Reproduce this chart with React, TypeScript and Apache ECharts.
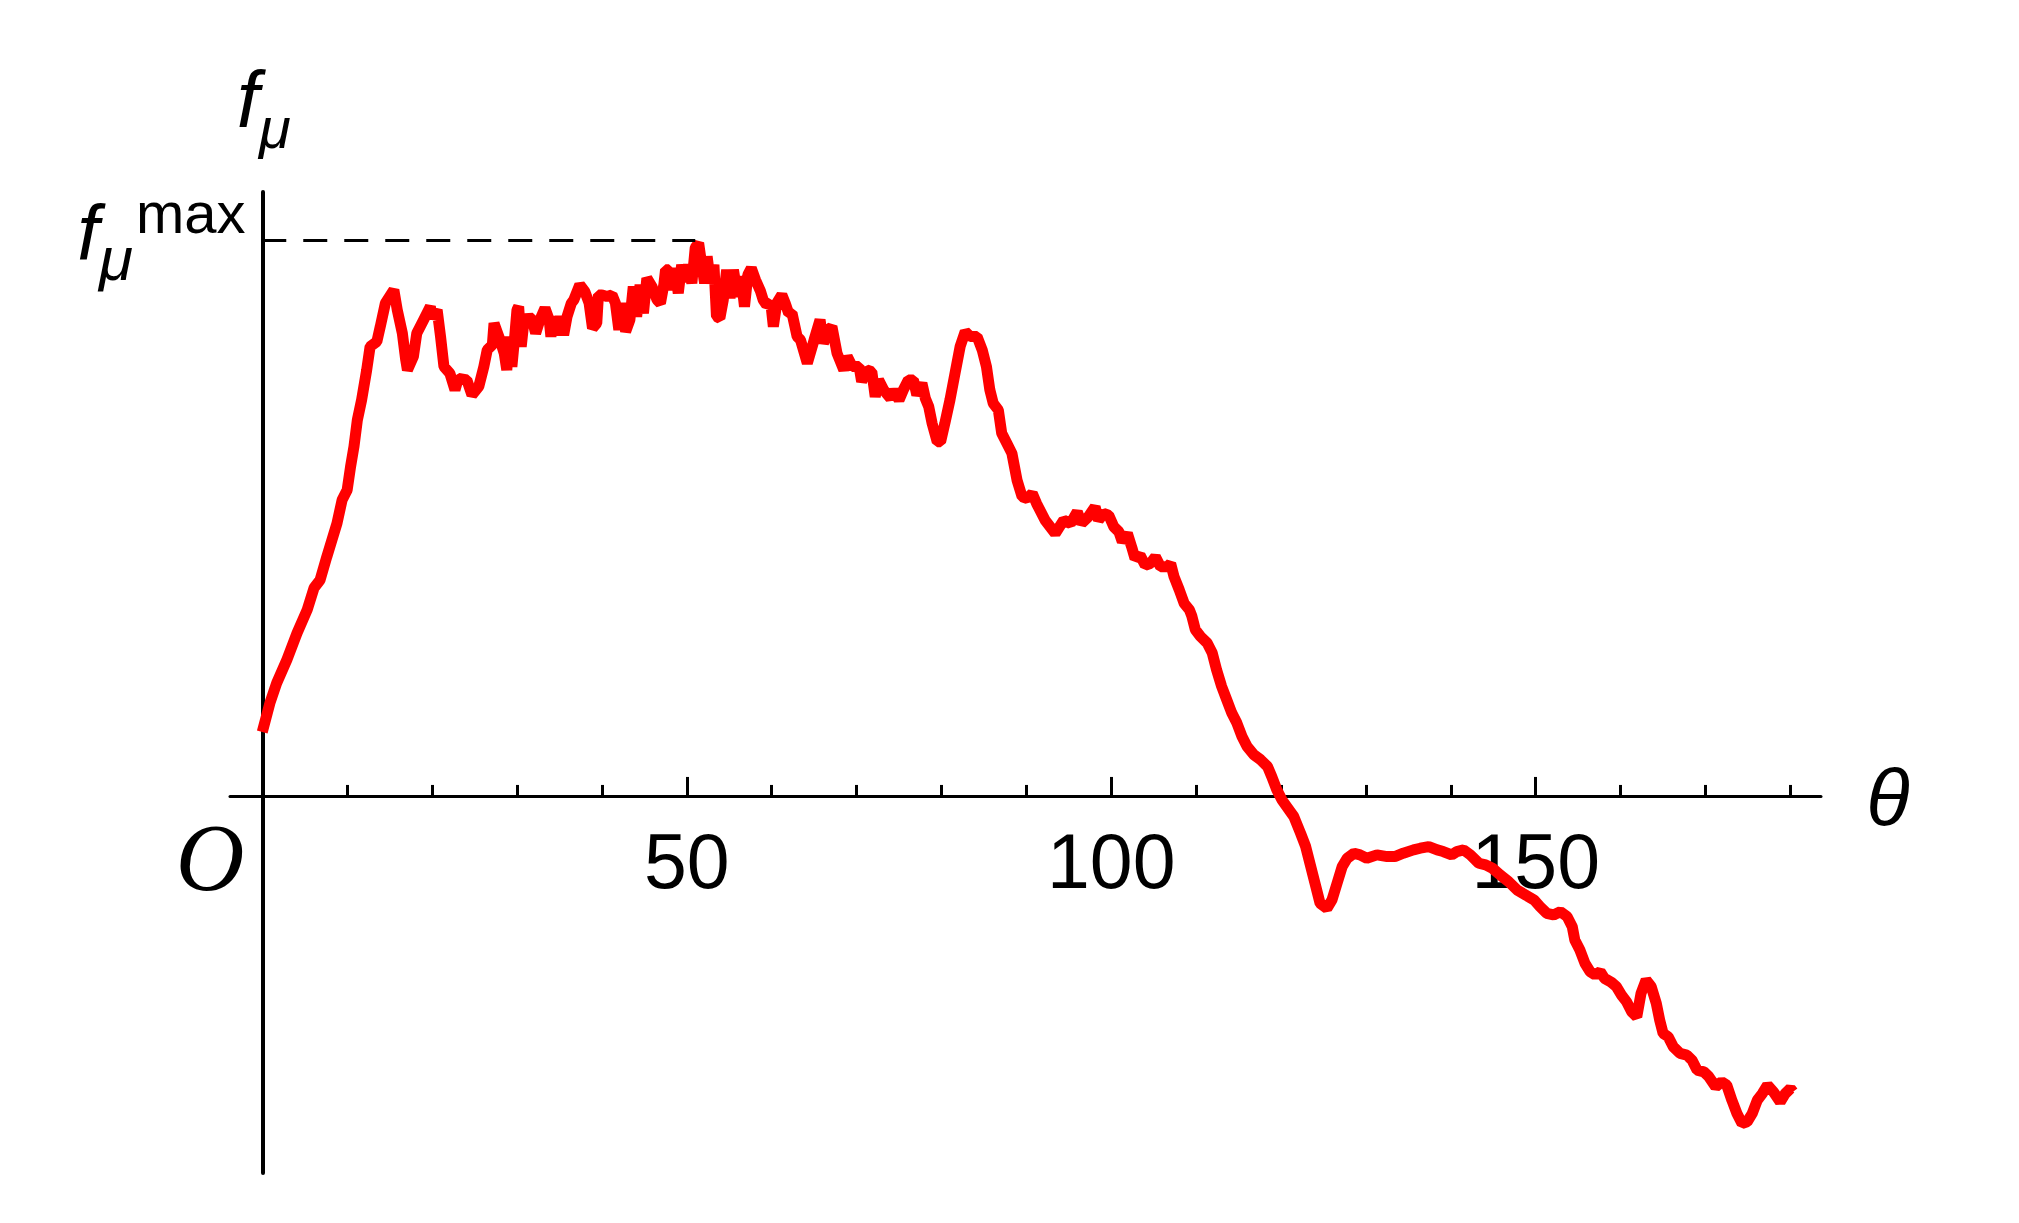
import React, { useEffect, useRef } from "react";
import * as echarts from "echarts";

// θ (degrees) and f_μ (in units where f_μ^max = 100)
const theta = [
  0.0, 0.9, 1.7, 2.9, 4.1, 5.3, 6.1, 6.8, 7.6, 8.2, 8.8, 9.4, 10.0, 10.4, 10.8, 11.2, 11.7, 12.3, 12.7, 13.5,
  13.9, 14.5, 15.5, 15.9, 16.5, 16.9, 17.1, 17.8, 18.2, 19.0, 19.8, 20.0, 20.6, 21.0, 21.4, 22.1, 22.7, 23.1,
  24.1, 24.7, 25.5, 26.1, 26.5, 27.1, 27.3,
  28.0, 28.5, 28.8, 29.1, 29.4, 29.7, 30.0, 30.2, 30.5, 30.8, 31.4, 31.8, 32.2, 32.7, 33.3, 33.8, 34.0, 34.3,
  34.7, 35.1, 35.5, 35.9, 36.4, 36.7, 37.4, 38.0, 38.5, 38.9, 39.4, 39.6, 40.0, 40.6, 41.2, 41.6, 42.0, 42.4,
  42.8, 43.3, 43.7, 44.1, 44.5, 44.9, 45.3, 45.9, 46.5, 46.9, 47.3, 47.5, 47.9, 48.2, 48.6, 49.0, 49.4, 49.8,
  50.2, 50.6, 51.0, 51.4, 51.8, 52.1, 52.4, 52.8, 53.2, 53.5, 53.9, 54.3, 54.7, 55.1, 55.5, 56.0, 56.4, 56.8,
  57.2, 57.6, 58.1, 58.7, 59.0, 59.4, 59.9, 60.2, 60.6, 61.2, 61.6, 62.0, 62.4, 63.0,
  63.4, 64.2, 65.0, 65.7, 66.1, 66.7, 67.1, 67.7, 68.5, 68.9, 69.5, 70.3, 70.6, 71.2, 71.8, 72.2, 72.6, 73.2,
  74.0, 74.4, 75.0, 75.5, 76.1, 76.7, 77.1, 77.7, 78.1, 78.5, 78.9, 79.5, 79.9, 80.4, 81.0, 81.6, 82.2, 82.8,
  83.4, 84.2, 84.8, 85.3, 85.7, 86.1, 86.7, 87.1, 87.7, 88.3, 88.9, 89.5, 90.1, 90.7,
  91.2, 92.2, 93.4, 94.4, 95.2, 96.0, 96.5, 97.3, 98.1, 98.5, 99.1, 99.7, 100.3, 100.9, 101.3, 101.9, 102.4,
  102.8, 103.4, 104.0, 104.6, 105.2, 105.8, 106.6, 107.0, 107.4, 108.0, 108.6, 109.2, 109.5, 109.9, 110.5,
  111.3, 111.9, 112.4, 113.0, 113.6, 114.2, 114.8, 115.4, 116.0, 116.8, 117.6, 118.4, 118.9, 119.5, 120.1,
  121.5, 122.3, 122.9, 123.5, 124.1, 124.6, 125.4, 126.0, 126.6, 127.2, 127.8, 128.6, 129.3, 130.1, 131.3,
  132.5, 133.4, 134.4, 135.6, 136.4, 137.4, 138.4, 139.1, 140.1, 140.7, 141.5, 142.3, 143.3, 144.1, 144.9,
  145.8, 146.8, 147.8, 148.8, 149.8,
  150.5, 151.3, 152.1, 152.9, 153.7, 154.3, 154.6, 155.2, 155.8, 156.4, 157.0, 157.6, 158.1, 158.9, 159.5,
  160.1, 160.7, 161.3, 161.9, 162.4, 163.0, 163.6, 164.2, 164.6, 165.0, 165.6, 166.2, 167.0, 167.8, 168.4,
  169.0, 169.8, 170.4, 171.2, 171.9, 172.5, 173.1, 173.7, 174.3, 174.9, 175.5, 176.1, 176.7, 177.3, 178.0,
  178.8, 179.4, 180.0, 180.3,
];

const fmu = [
  11.5, 16.7, 20.3, 24.5, 29.3, 33.5, 37.4, 38.8, 43.0, 46.0, 49.0, 53.2, 55.0, 59.2, 62.8, 67.6, 71.2, 76.6, 80.8, 81.7,
  84.4, 88.6, 91.0, 87.4, 83.2, 78.4, 76.6, 79.0, 83.2, 85.6, 88.0, 85.9, 87.4, 82.6, 77.2, 76.0, 73.0, 75.1,
  74.8, 72.1, 73.6, 77.2, 80.2, 81.1, 85.0,
  82.0, 79.6, 76.6, 82.6, 77.2, 82.0, 87.4, 88.0, 80.8, 85.0, 86.2, 85.6, 83.2, 85.6, 87.7, 85.6, 82.6, 86.2,
  82.9, 86.2, 82.9, 86.2, 88.6, 89.2, 91.9, 90.7, 88.6, 84.1, 85.0, 90.1, 90.1, 89.8, 90.1, 88.6, 83.8, 88.6,
  83.5, 85.6, 91.6, 86.2, 91.9, 86.8, 93.1, 91.6, 89.2, 88.6, 91.9, 94.6, 94.6, 91.0, 94.9, 90.4, 95.5, 92.5,
  95.5, 92.2, 98.6, 99.4, 95.2, 92.2, 97.0, 92.2, 95.5, 86.2, 85.9, 89.2, 94.6, 89.5, 94.6, 89.8, 93.4, 88.0,
  93.7, 94.9, 92.8, 90.7, 89.2, 88.3, 88.6, 84.4, 88.6, 90.1, 88.6, 86.8, 86.8, 82.6,
  82.0, 77.8, 82.0, 85.6, 81.4, 83.8, 84.4, 79.6, 76.6, 79.0, 77.2, 77.2, 74.5, 76.6, 76.3, 71.8, 74.8, 73.0,
  71.5, 73.0, 71.2, 73.0, 74.8, 74.8, 72.1, 74.2, 71.5, 70.0, 67.0, 63.7, 63.7, 67.0, 71.2, 76.0, 80.8, 83.5,
  82.6, 82.6, 80.2, 77.2, 73.0, 70.6, 69.4, 65.2, 63.4, 61.6, 56.8, 53.8, 53.5, 54.4,
  52.6, 49.6, 47.2, 49.6, 49.0, 51.1, 49.0, 50.2, 52.0, 49.6, 50.8, 50.5, 48.4, 47.5, 45.7, 47.2, 44.8,
  42.7, 43.3, 41.5, 41.8, 43.0, 41.2, 41.2, 41.8, 39.4, 37.1, 34.6, 33.5, 32.3, 29.9, 28.7,
  27.5, 25.7, 22.7, 19.7, 17.3, 14.9, 13.1, 10.7, 8.9, 7.4, 6.5, 5.3, 3.5, 1.1, -0.7,
  -3.7, -6.7, -9.1, -12.7, -16.3, -19.3, -20.2, -18.7, -15.7, -12.7, -11.2, -10.3, -10.6, -11.2, -10.6,
  -10.9, -10.9, -10.3, -9.7, -9.4, -9.1, -9.7, -10.0, -10.6, -10.0, -9.7, -10.6, -12.1, -12.4, -13.0,
  -14.2, -15.4, -16.9, -17.8, -18.7,
  -19.9, -21.1, -21.4, -20.8, -21.7, -23.5, -25.9, -27.7, -30.1, -31.6, -32.2, -31.6, -32.8, -33.5, -34.3,
  -35.8, -37.0, -38.8, -39.7, -35.5, -33.1, -34.3, -37.3, -40.3, -42.7, -43.3, -45.1, -46.3, -46.6, -47.5,
  -49.3, -49.6, -50.5, -52.3, -51.4, -52.0, -54.7, -57.1, -58.9, -58.6, -57.1, -54.7, -53.5, -52.0, -53.2,
  -55.0, -53.5, -52.6, -53.2,
];

const labelTicks = [50, 100, 150];
const minorTicks = [10, 20, 30, 40, 50, 60, 70, 80, 90, 100, 110, 120, 130, 140, 150, 160, 170, 180];
const fMax = 100;
const thetaAtMax = 51.0;
const thetaMin = -3.8;
const thetaMax = 183.6;
const fMin = -67.8;
const fTop = 108.6;

export default function App() {
  const ref = useRef<HTMLDivElement>(null);

  useEffect(() => {
    if (!ref.current) return;
    const chart = echarts.init(ref.current, null, { renderer: "svg" });
    const data = theta.map((t, i) => [t, fmu[i]]);
    const sans = '"Liberation Sans", Arial, sans-serif';
    const serif = '"Liberation Serif", "Times New Roman", serif';

    chart.setOption({
      animation: false,
      backgroundColor: "#ffffff",
      grid: [
        { left: 230, right: 198, top: 192, bottom: 50, outerBoundsMode: "none", containLabel: false },
        // label strip: its bottom edge sits on the θ axis (f = 0)
        { left: 230, right: 198, top: 192, bottom: 427, outerBoundsMode: "none", containLabel: false },
      ],
      xAxis: [
        {
          type: "value",
          gridIndex: 0,
          min: thetaMin,
          max: thetaMax,
          position: "bottom",
          axisLine: { show: true, onZero: true, lineStyle: { color: "#000", width: 3 } },
          axisTick: {
            show: true,
            inside: true,
            length: 11,
            customValues: minorTicks,
            lineStyle: { color: "#000", width: 3 },
          },
          axisLabel: { show: false },
          splitLine: { show: false },
        },
        {
          type: "value",
          gridIndex: 0,
          min: thetaMin,
          max: thetaMax,
          position: "bottom",
          axisLine: {
            show: true,
            onZero: true,
            onZeroAxisIndex: 0,
            lineStyle: { color: "#000", width: 3, opacity: 0 },
          },
          axisTick: {
            show: true,
            inside: true,
            length: 19,
            customValues: labelTicks,
            lineStyle: { color: "#000", width: 3 },
          },
          axisLabel: { show: false },
          splitLine: { show: false },
        },
        {
          type: "value",
          gridIndex: 1,
          min: thetaMin,
          max: thetaMax,
          position: "bottom",
          axisLine: { show: false, onZero: false },
          axisTick: { show: false },
          axisLabel: {
            show: true,
            customValues: labelTicks,
            color: "#000",
            fontFamily: sans,
            fontSize: 77,
            lineHeight: 77,
            margin: 26,
          },
          splitLine: { show: false },
        },
      ],
      yAxis: [
        {
          type: "value",
          gridIndex: 0,
          min: fMin,
          max: fTop,
          axisLine: { show: true, onZero: true, lineStyle: { color: "#000", width: 4 } },
          axisTick: { show: false },
          axisLabel: { show: false },
          splitLine: { show: false },
        },
        {
          type: "value",
          gridIndex: 1,
          min: 0,
          max: fTop,
          show: false,
          axisLine: { show: false },
          axisTick: { show: false },
          axisLabel: { show: false },
          splitLine: { show: false },
        },
      ],
      series: [
        {
          type: "line",
          xAxisIndex: 0,
          yAxisIndex: 0,
          data,
          showSymbol: false,
          symbol: "none",
          lineStyle: { color: "#ff0000", width: 11 },
          z: 3,
          markLine: {
            silent: true,
            symbol: ["none", "none"],
            label: { show: false },
            lineStyle: { color: "#000", width: 3, type: [24, 17] },
            data: [[{ coord: [0, fMax] }, { coord: [thetaAtMax, fMax] }]],
          },
        },
      ],
      graphic: [
        { type: "text", x: 259, y: 99, style: { text: "f", fontFamily: sans, fontStyle: "italic", fontSize: 80, fill: "#000", align: "right", verticalAlign: "middle" } },
        { type: "text", x: 259, y: 127, style: { text: "μ", fontFamily: sans, fontStyle: "italic", fontSize: 58, fill: "#000", align: "left", verticalAlign: "middle" } },
        { type: "text", x: 99, y: 233, style: { text: "f", fontFamily: sans, fontStyle: "italic", fontSize: 78, fill: "#000", align: "right", verticalAlign: "middle" } },
        { type: "text", x: 99, y: 258, style: { text: "μ", fontFamily: sans, fontStyle: "italic", fontSize: 62, fill: "#000", align: "left", verticalAlign: "middle" } },
        { type: "text", x: 136, y: 212, style: { text: "max", fontFamily: sans, fontSize: 58, fill: "#000", align: "left", verticalAlign: "middle" } },
        { type: "text", x: 210, y: 858, style: { text: "O", fontFamily: serif, fontStyle: "italic", fontSize: 95, fill: "#000", align: "center", verticalAlign: "middle" } },
        { type: "text", x: 1888, y: 797, style: { text: "θ", fontFamily: sans, fontStyle: "italic", fontSize: 80, fill: "#000", align: "center", verticalAlign: "middle" } },
      ],
    });

    return () => chart.dispose();
  }, []);

  return (
    <div
      ref={ref}
      style={{ position: "fixed", left: 0, top: 0, width: 2019, height: 1223, background: "#fff" }}
    />
  );
}
